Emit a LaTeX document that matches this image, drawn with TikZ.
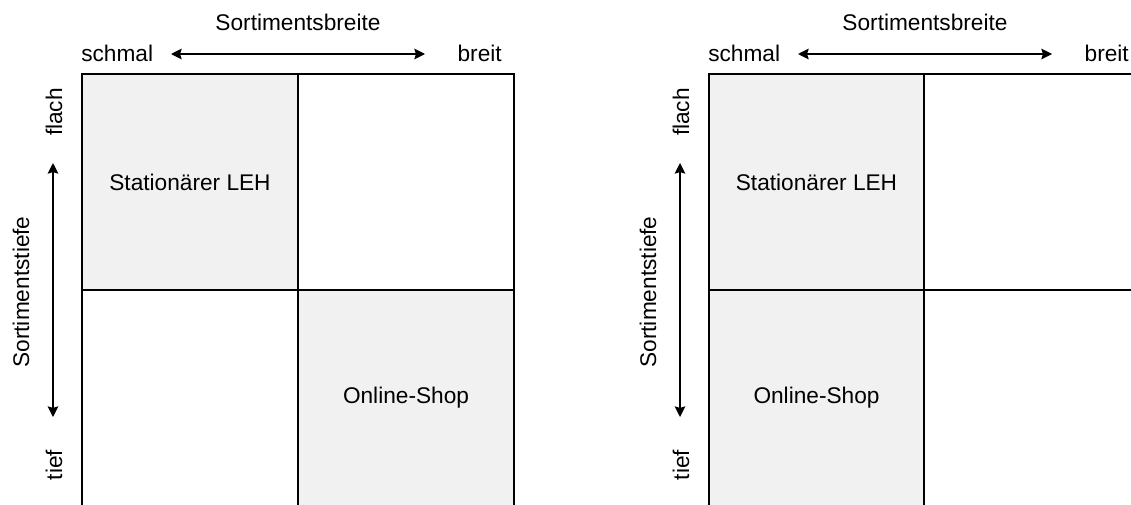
\documentclass[tikz,border=0pt]{standalone}
\usepackage{fontspec}
\setmainfont{Liberation Sans}
\usetikzlibrary{arrows.meta}
\definecolor{cellgray}{HTML}{F1F1F1}
\begin{document}
\begin{tikzpicture}[x=0.75pt,y=-0.75pt,
  every node/.style={font=\fontsize{17}{20}\selectfont, text=black},
  cell/.style={draw=black, line width=1.5pt, minimum width=162pt, minimum height=162pt, inner sep=0pt, anchor=center},
  shaded/.style={cell, fill=cellgray},
  plain/.style={cell, fill=white},
  lbl/.style={inner sep=0pt},
  axis/.style={line width=1.1pt, {Stealth[length=8pt,width=8pt,inset=1.2pt]}-{Stealth[length=8pt,width=8pt,inset=1.2pt]}}
]
\useasboundingbox (0,0) rectangle (1131,504);
\clip (0,0) rectangle (1131,504);
\fill[white] (0,0) rectangle (1131,504);

% ---------- left diagram ----------
\node[shaded] (L11) at (190,182) {Stationärer LEH};
\node[plain]  (L12) at (406,182) {};
\node[plain]  (L21) at (190,398) {};
\node[shaded] (L22) at (406,398) {Online-Shop};

\node[lbl, anchor=base] (Lbreite) at (298,30) {Sortimentsbreite};
\node[lbl, anchor=base west] (Lschmal) at (81,61) {schmal};
\node[lbl, anchor=base east] (Lbreit) at (502,61) {breit};
\coordinate (Lh1) at (171,54);
\coordinate (Lh2) at (425,54);
\draw[axis] (Lh1) -- (Lh2);

\node[lbl, rotate=90, anchor=base] (Lflach) at (62,112) {flach};
\node[lbl, rotate=90, anchor=base] (Ltief) at (62,465) {tief};
\node[lbl, rotate=90, anchor=base] (Ltiefe) at (29,292) {Sortimentstiefe};
\coordinate (Lv1) at (53,163);
\coordinate (Lv2) at (53,417);
\draw[axis] (Lv1) -- (Lv2);

% ---------- right diagram ----------
\node[shaded] (R11) at (816.5,182) {Stationärer LEH};
\node[plain]  (R12) at (1032.1,182) {};
\node[shaded] (R21) at (816.5,398) {Online-Shop};
\node[plain]  (R22) at (1032.1,398) {};

\node[lbl, anchor=base] (Rbreite) at (925,30) {Sortimentsbreite};
\node[lbl, anchor=base west] (Rschmal) at (708,61) {schmal};
\node[lbl, anchor=base east] (Rbreit) at (1129,61) {breit};
\coordinate (Rh1) at (798,54);
\coordinate (Rh2) at (1052,54);
\draw[axis] (Rh1) -- (Rh2);

\node[lbl, rotate=90, anchor=base] (Rflach) at (689,112) {flach};
\node[lbl, rotate=90, anchor=base] (Rtief) at (689,465) {tief};
\node[lbl, rotate=90, anchor=base] (Rtiefe) at (656,292) {Sortimentstiefe};
\coordinate (Rv1) at (680,163);
\coordinate (Rv2) at (680,417);
\draw[axis] (Rv1) -- (Rv2);
\end{tikzpicture}
\end{document}
